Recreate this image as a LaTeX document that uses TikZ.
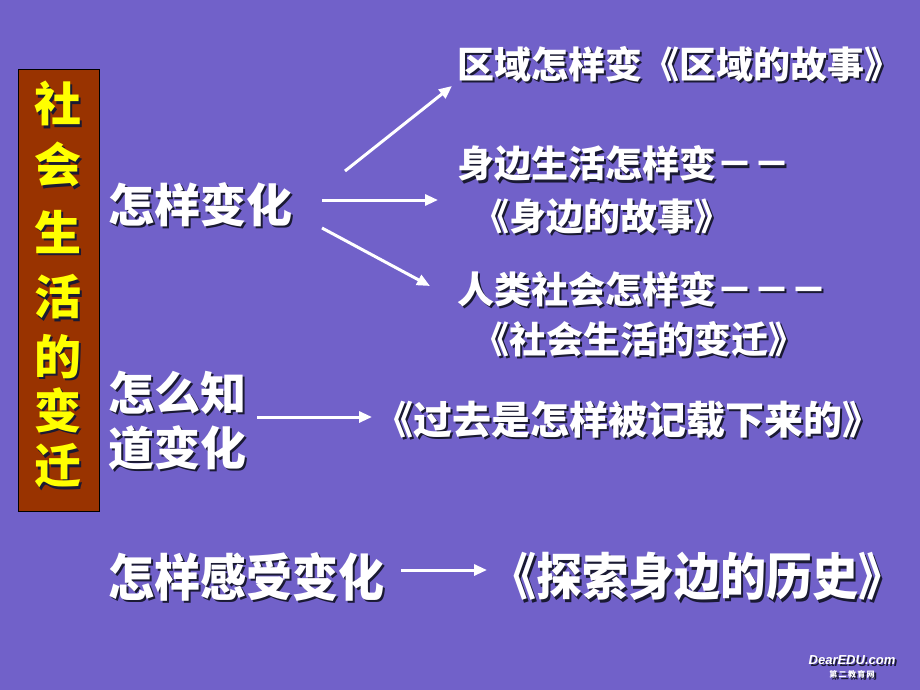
\documentclass[tikz,border=0pt]{standalone}
\usepackage{fontspec}
\newfontfamily\cjk{Noto Sans CJK SC}
\newfontfamily\wmfont{Liberation Sans}
\usetikzlibrary{arrows.meta, positioning}
\definecolor{slideBg}{HTML}{7161C9}
\definecolor{boxRed}{HTML}{993300}
\definecolor{titleYellow}{HTML}{FFFF00}
\definecolor{shadowDark}{HTML}{1A1A33}
\newcommand{\shad}[2][white]{\leavevmode\rlap{\kern2.2pt\raisebox{-2.2pt}{\color{shadowDark}#2}}{\color{#1}#2}}
\tikzset{
  bigtext/.style={font=\cjk\bfseries\fontsize{46}{55}\selectfont, inner sep=0pt, anchor=west},
  booktext/.style={font=\cjk\bfseries\fontsize{37}{42}\selectfont, inner sep=0pt},
  titlechar/.style={font=\cjk\bfseries\fontsize{47}{50}\selectfont, inner sep=0pt},
  wharr/.style={-{Triangle[length=13pt, width=11pt]}, white, line width=3pt},
}

\begin{document}
\begin{tikzpicture}[x=1pt, y=-1pt]
  \fill[slideBg] (0,0) rectangle (920,690);
  % title column
  \node[draw=black, fill=boxRed, minimum width=81pt, minimum height=442pt, inner sep=0pt] (titlebox) at (58.5,290) {};
  \foreach \ch/\yy in {社/105, 会/166, 生/233, 活/298, 的/358, 变/411, 迁/467}
    \node[titlechar] at (58,\yy) {\shad[titleYellow]{\ch}};

  % how it changes
  \node[bigtext] (how) at (108,206) {\shad{怎样变化}};
  \node[booktext, anchor=west] (regionline) at (457,65) {\shad{区域怎样变《区域的故事》}};
  \node[booktext, anchor=west] (lifeline) at (457,165) {\shad{身边生活怎样变－－}};
  \node[booktext] (lifebook) at (602,218) {\shad{《身边的故事》}};
  \node[booktext, anchor=west] (humanline) at (457,290) {\shad{人类社会怎样变－－－}};
  \node[booktext] (humanbook) at (639,340) {\shad{《社会生活的变迁》}};

  \coordinate (upS) at (345,171);  \coordinate (upE) at (452,86);
  \coordinate (midS) at (322,200); \coordinate (midE) at (438,200);
  \coordinate (lowS) at (322,228); \coordinate (lowE) at (430,286);
  \draw[wharr] (upS) -- (upE);
  \draw[wharr] (midS) -- (midE);
  \draw[wharr] (lowS) -- (lowE);

  % how we know
  \node[bigtext, align=left] (know) at (108,422) {\shad{怎么知}\\\shad{道变化}};
  \node[booktext, font=\cjk\bfseries\fontsize{39}{42}\selectfont] (record) at (628,421) {\shad{《过去是怎样被记载下来的》}};
  \coordinate (knowS) at (257,417); \coordinate (knowE) at (372,417);
  \draw[wharr] (knowS) -- (knowE);

  % how we feel it
  \node[bigtext] (feel) at (108,578) {\scalebox{1}[1.1]{\shad{怎样感受变化}}};
  \node[booktext, font=\cjk\bfseries\fontsize{46}{50}\selectfont] (explore) at (697,578) {\scalebox{1}[1.1]{\shad{《探索身边的历史》}}};
  \coordinate (feelS) at (401,570); \coordinate (feelE) at (487,570);
  \draw[wharr] (feelS) -- (feelE);

  % watermark
  \node[font=\wmfont\bfseries\itshape\fontsize{13}{14}\selectfont, inner sep=0pt] (wmark) at (852,661) {\shad{DearEDU.com}};
  \node[font=\cjk\bfseries\fontsize{8}{9}\selectfont, inner sep=0pt, below=3pt of wmark] (wmarkcn) {\shad{第\,二\,教\,育\,网}};
\end{tikzpicture}
\end{document}
